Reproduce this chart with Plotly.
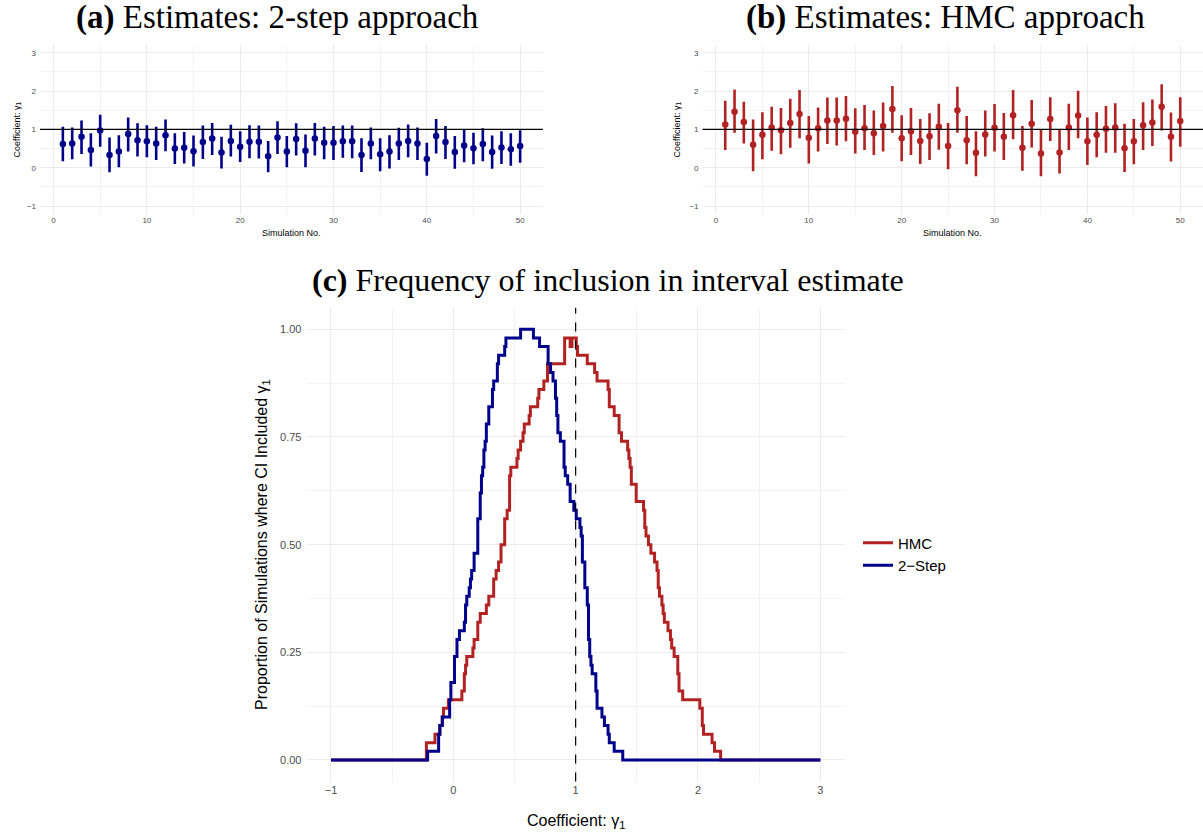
import numpy as np
import plotly.graph_objects as go

# ---------------- data ----------------
sim_no = list(range(1, 51))

twostep_est = [0.62, 0.63, 0.81, 0.46, 0.97, 0.33, 0.42, 0.88, 0.72, 0.69,
               0.63, 0.85, 0.50, 0.52, 0.43, 0.67, 0.76, 0.40, 0.70, 0.55,
               0.68, 0.68, 0.30, 0.79, 0.42, 0.75, 0.44, 0.76, 0.65, 0.65,
               0.69, 0.69, 0.33, 0.63, 0.35, 0.42, 0.63, 0.70, 0.63, 0.23,
               0.83, 0.67, 0.41, 0.58, 0.51, 0.62, 0.41, 0.53, 0.48, 0.57]
twostep_lower = [0.17, 0.22, 0.36, 0.03, 0.55, -0.12, 0.01, 0.42, 0.29, 0.27,
                 0.20, 0.43, 0.10, 0.11, 0.03, 0.23, 0.33, -0.02, 0.29, 0.15,
                 0.25, 0.24, -0.12, 0.36, 0.01, 0.32, 0.01, 0.32, 0.22, 0.20,
                 0.26, 0.25, -0.11, 0.22, -0.09, -0.02, 0.20, 0.27, 0.20, -0.21,
                 0.37, 0.23, -0.03, 0.14, 0.09, 0.17, -0.03, 0.10, 0.05, 0.13]
twostep_upper = [1.07, 1.05, 1.23, 0.90, 1.38, 0.79, 0.85, 1.31, 1.16, 1.11,
                 1.07, 1.26, 0.90, 0.93, 0.84, 1.10, 1.17, 0.81, 1.12, 0.95,
                 1.11, 1.10, 0.70, 1.21, 0.83, 1.16, 0.87, 1.17, 1.07, 1.09,
                 1.10, 1.10, 0.77, 1.05, 0.77, 0.85, 1.04, 1.13, 1.05, 0.65,
                 1.27, 1.09, 0.83, 1.00, 0.91, 1.03, 0.84, 0.95, 0.90, 0.98]

hmc_est = [1.13, 1.46, 1.19, 0.60, 0.86, 1.05, 0.98, 1.17, 1.40, 0.78,
           1.03, 1.23, 1.23, 1.28, 0.94, 1.03, 0.90, 1.09, 1.53, 0.77,
           0.95, 0.70, 0.82, 1.07, 0.57, 1.50, 0.72, 0.39, 0.87, 1.04,
           0.81, 1.37, 0.52, 1.15, 0.37, 1.27, 0.40, 1.05, 1.36, 0.69,
           0.86, 1.02, 1.05, 0.51, 0.69, 1.11, 1.18, 1.59, 0.81, 1.22]
hmc_lower = [0.46, 0.91, 0.63, -0.09, 0.22, 0.44, 0.35, 0.52, 0.77, 0.11,
             0.42, 0.62, 0.58, 0.69, 0.37, 0.46, 0.33, 0.42, 0.91, 0.17,
             0.33, 0.10, 0.20, 0.47, -0.04, 0.91, 0.09, -0.22, 0.29, 0.42,
             0.20, 0.74, -0.08, 0.53, -0.22, 0.70, -0.15, 0.46, 0.77, 0.07,
             0.27, 0.39, 0.39, -0.11, 0.09, 0.46, 0.57, 0.97, 0.16, 0.55]
hmc_upper = [1.75, 2.04, 1.72, 1.26, 1.45, 1.59, 1.56, 1.80, 2.03, 1.35,
             1.57, 1.83, 1.83, 1.87, 1.55, 1.64, 1.49, 1.70, 2.13, 1.37,
             1.56, 1.27, 1.42, 1.67, 1.17, 2.11, 1.35, 0.95, 1.49, 1.66,
             1.43, 2.03, 1.09, 1.77, 1.01, 1.84, 1.00, 1.67, 2.01, 1.31,
             1.45, 1.61, 1.68, 1.15, 1.27, 1.71, 1.78, 2.18, 1.44, 1.84]

true_gamma = 1.0
grid_min, grid_max, grid_step = -1.0, 3.0, 0.005

titles = ["<b>(a)</b> Estimates: 2-step approach",
          "<b>(b)</b> Estimates: HMC approach",
          "<b>(c)</b> Frequency of inclusion in interval estimate"]
series_names = ["HMC", "2\u2212Step"]

BLUE = "#00008B"
RED = "#B22222"


def coverage(lower, upper, grid):
    lo = np.asarray(lower)[:, None]
    up = np.asarray(upper)[:, None]
    return ((lo <= grid[None, :]) & (up >= grid[None, :])).mean(axis=0)


grid = np.round(np.arange(grid_min, grid_max + grid_step / 2, grid_step), 6)
cov_hmc = coverage(hmc_lower, hmc_upper, grid)
cov_2s = coverage(twostep_lower, twostep_upper, grid)

W, H = 1203, 836


def px_x(p):
    return p / W


def px_y(p):
    return 1 - p / H


fig = go.Figure()


def err_trace(est, lo, up, color, xa, ya):
    est = np.asarray(est); lo = np.asarray(lo); up = np.asarray(up)
    return go.Scatter(
        x=sim_no, y=est, mode="markers", xaxis=xa, yaxis=ya, showlegend=False,
        marker=dict(color=color, size=6.5),
        error_y=dict(type="data", symmetric=False, array=up - est,
                     arrayminus=est - lo, width=0, thickness=2.6, color=color),
    )


fig.add_trace(err_trace(twostep_est, twostep_lower, twostep_upper, BLUE, "x", "y"))
fig.add_trace(err_trace(hmc_est, hmc_lower, hmc_upper, RED, "x2", "y2"))

fig.add_trace(go.Scatter(x=grid, y=cov_hmc, mode="lines", name=series_names[0],
                         line=dict(color=RED, width=3, shape="hv"),
                         xaxis="x3", yaxis="y3"))
fig.add_trace(go.Scatter(x=grid, y=cov_2s, mode="lines", name=series_names[1],
                         line=dict(color=BLUE, width=3, shape="hv"),
                         xaxis="x3", yaxis="y3"))

grid_major = "#EBEBEB"
grid_minor = "#F3F3F3"
tick_font_small = dict(family="Liberation Sans", size=8, color="#4D4D4D")
tick_font_big = dict(family="Liberation Sans", size=11, color="#4D4D4D")

common_small_x = dict(range=[-1.45, 52.45], tickvals=[0, 10, 20, 30, 40, 50],
                      showgrid=True, gridcolor=grid_major, gridwidth=1,
                      minor=dict(tickvals=[5, 15, 25, 35, 45], showgrid=True,
                                 gridcolor=grid_minor, gridwidth=1),
                      zeroline=False, showline=False, ticks="",
                      tickfont=tick_font_small)
common_small_y = dict(range=[-1.2, 3.2], tickvals=[-1, 0, 1, 2, 3],
                      ticktext=["\u22121", "0", "1", "2", "3"],
                      showgrid=True, gridcolor=grid_major, gridwidth=1,
                      minor=dict(tickvals=[-0.5, 0.5, 1.5, 2.5], showgrid=True,
                                 gridcolor=grid_minor, gridwidth=1),
                      zeroline=False, showline=False, ticks="",
                      ticklabelstandoff=3,
                      tickfont=tick_font_small)

ydom_top = [px_y(213.7), px_y(45.1)]
fig.update_layout(
    width=W, height=H, margin=dict(l=0, r=0, t=0, b=0),
    paper_bgcolor="white", plot_bgcolor="white",
    font=dict(family="Liberation Sans", color="black"),
    xaxis=dict(domain=[px_x(40), px_x(543)], anchor="y", **common_small_x),
    yaxis=dict(domain=ydom_top, anchor="x", **common_small_y),
    xaxis2=dict(domain=[px_x(702.5), 1.0], anchor="y2", **common_small_x),
    yaxis2=dict(domain=ydom_top, anchor="x2", **common_small_y),
    xaxis3=dict(domain=[px_x(306.5), px_x(844.8)], anchor="y3",
                range=[-1.2, 3.2], tickvals=[-1, 0, 1, 2, 3],
                ticktext=["\u22121", "0", "1", "2", "3"],
                showgrid=True, gridcolor=grid_major, gridwidth=1,
                minor=dict(tickvals=[-0.5, 0.5, 1.5, 2.5], showgrid=True,
                           gridcolor=grid_minor, gridwidth=1),
                zeroline=False, showline=False, ticks="", tickfont=tick_font_big),
    yaxis3=dict(domain=[px_y(781.5), px_y(307.8)], anchor="x3",
                range=[-0.05, 1.05], tickvals=[0, 0.25, 0.5, 0.75, 1.0],
                ticktext=["0.00", "0.25", "0.50", "0.75", "1.00"],
                showgrid=True, gridcolor=grid_major, gridwidth=1,
                minor=dict(tickvals=[0.125, 0.375, 0.625, 0.875], showgrid=True,
                           gridcolor=grid_minor, gridwidth=1),
                zeroline=False, showline=False, ticks="", ticklabelstandoff=4,
                tickfont=tick_font_big),
    legend=dict(x=px_x(858), y=px_y(554), xanchor="left", yanchor="middle",
                font=dict(family="Liberation Sans", size=15, color="black"),
                itemwidth=30, bgcolor="rgba(0,0,0,0)", tracegroupgap=0),
)

# reference lines at the true value
for xa, ya in [("x", "y"), ("x2", "y2")]:
    fig.add_shape(type="line", xref=f"{xa} domain", yref=ya, x0=0, x1=1,
                  y0=true_gamma, y1=true_gamma, line=dict(color="black", width=1.2),
                  layer="above")
fig.add_shape(type="line", xref="x3", yref="y3 domain", x0=true_gamma, x1=true_gamma,
              y0=0, y1=1, line=dict(color="black", width=1.2, dash="dash"),
              layer="above")

ann = [
    dict(text=titles[0], x=px_x(277), y=px_y(17), size=33),
    dict(text=titles[1], x=px_x(945), y=px_y(17), size=33),
    dict(text=titles[2], x=px_x(608), y=px_y(280), size=32),
]
for a in ann:
    fig.add_annotation(xref="paper", yref="paper", showarrow=False,
                       xanchor="center", yanchor="middle", text=a["text"],
                       x=a["x"], y=a["y"],
                       font=dict(family="Liberation Serif", size=a["size"],
                                 color="black"))

small_title = dict(family="Liberation Sans", size=9, color="black")
big_title = dict(family="Liberation Sans", size=16, color="black")
for cx in [291.5, 952.7]:
    fig.add_annotation(text="Simulation No.", xref="paper", yref="paper",
                       x=px_x(cx), y=px_y(233), showarrow=False,
                       xanchor="center", yanchor="middle", font=small_title)
for cx in [17, 677]:
    fig.add_annotation(text="Coefficient: \u03b3<sub>1</sub>", xref="paper", yref="paper",
                       x=px_x(cx), y=px_y(129.4), showarrow=False, textangle=-90,
                       xanchor="center", yanchor="middle", font=small_title)
fig.add_annotation(text="Coefficient: \u03b3<sub>1</sub>", xref="paper", yref="paper",
                   x=px_x(576), y=px_y(821), showarrow=False,
                   xanchor="center", yanchor="middle", font=big_title)
fig.add_annotation(text="Proportion of Simulations where CI Included \u03b3<sub>1</sub>",
                   xref="paper", yref="paper", x=px_x(262), y=px_y(545),
                   showarrow=False, textangle=-90,
                   xanchor="center", yanchor="middle", font=big_title)

fig.write_html("out.html", config={"displayModeBar": False},
               post_script="document.body.style.margin='0px';"
                           "document.body.style.overflow='hidden';")
